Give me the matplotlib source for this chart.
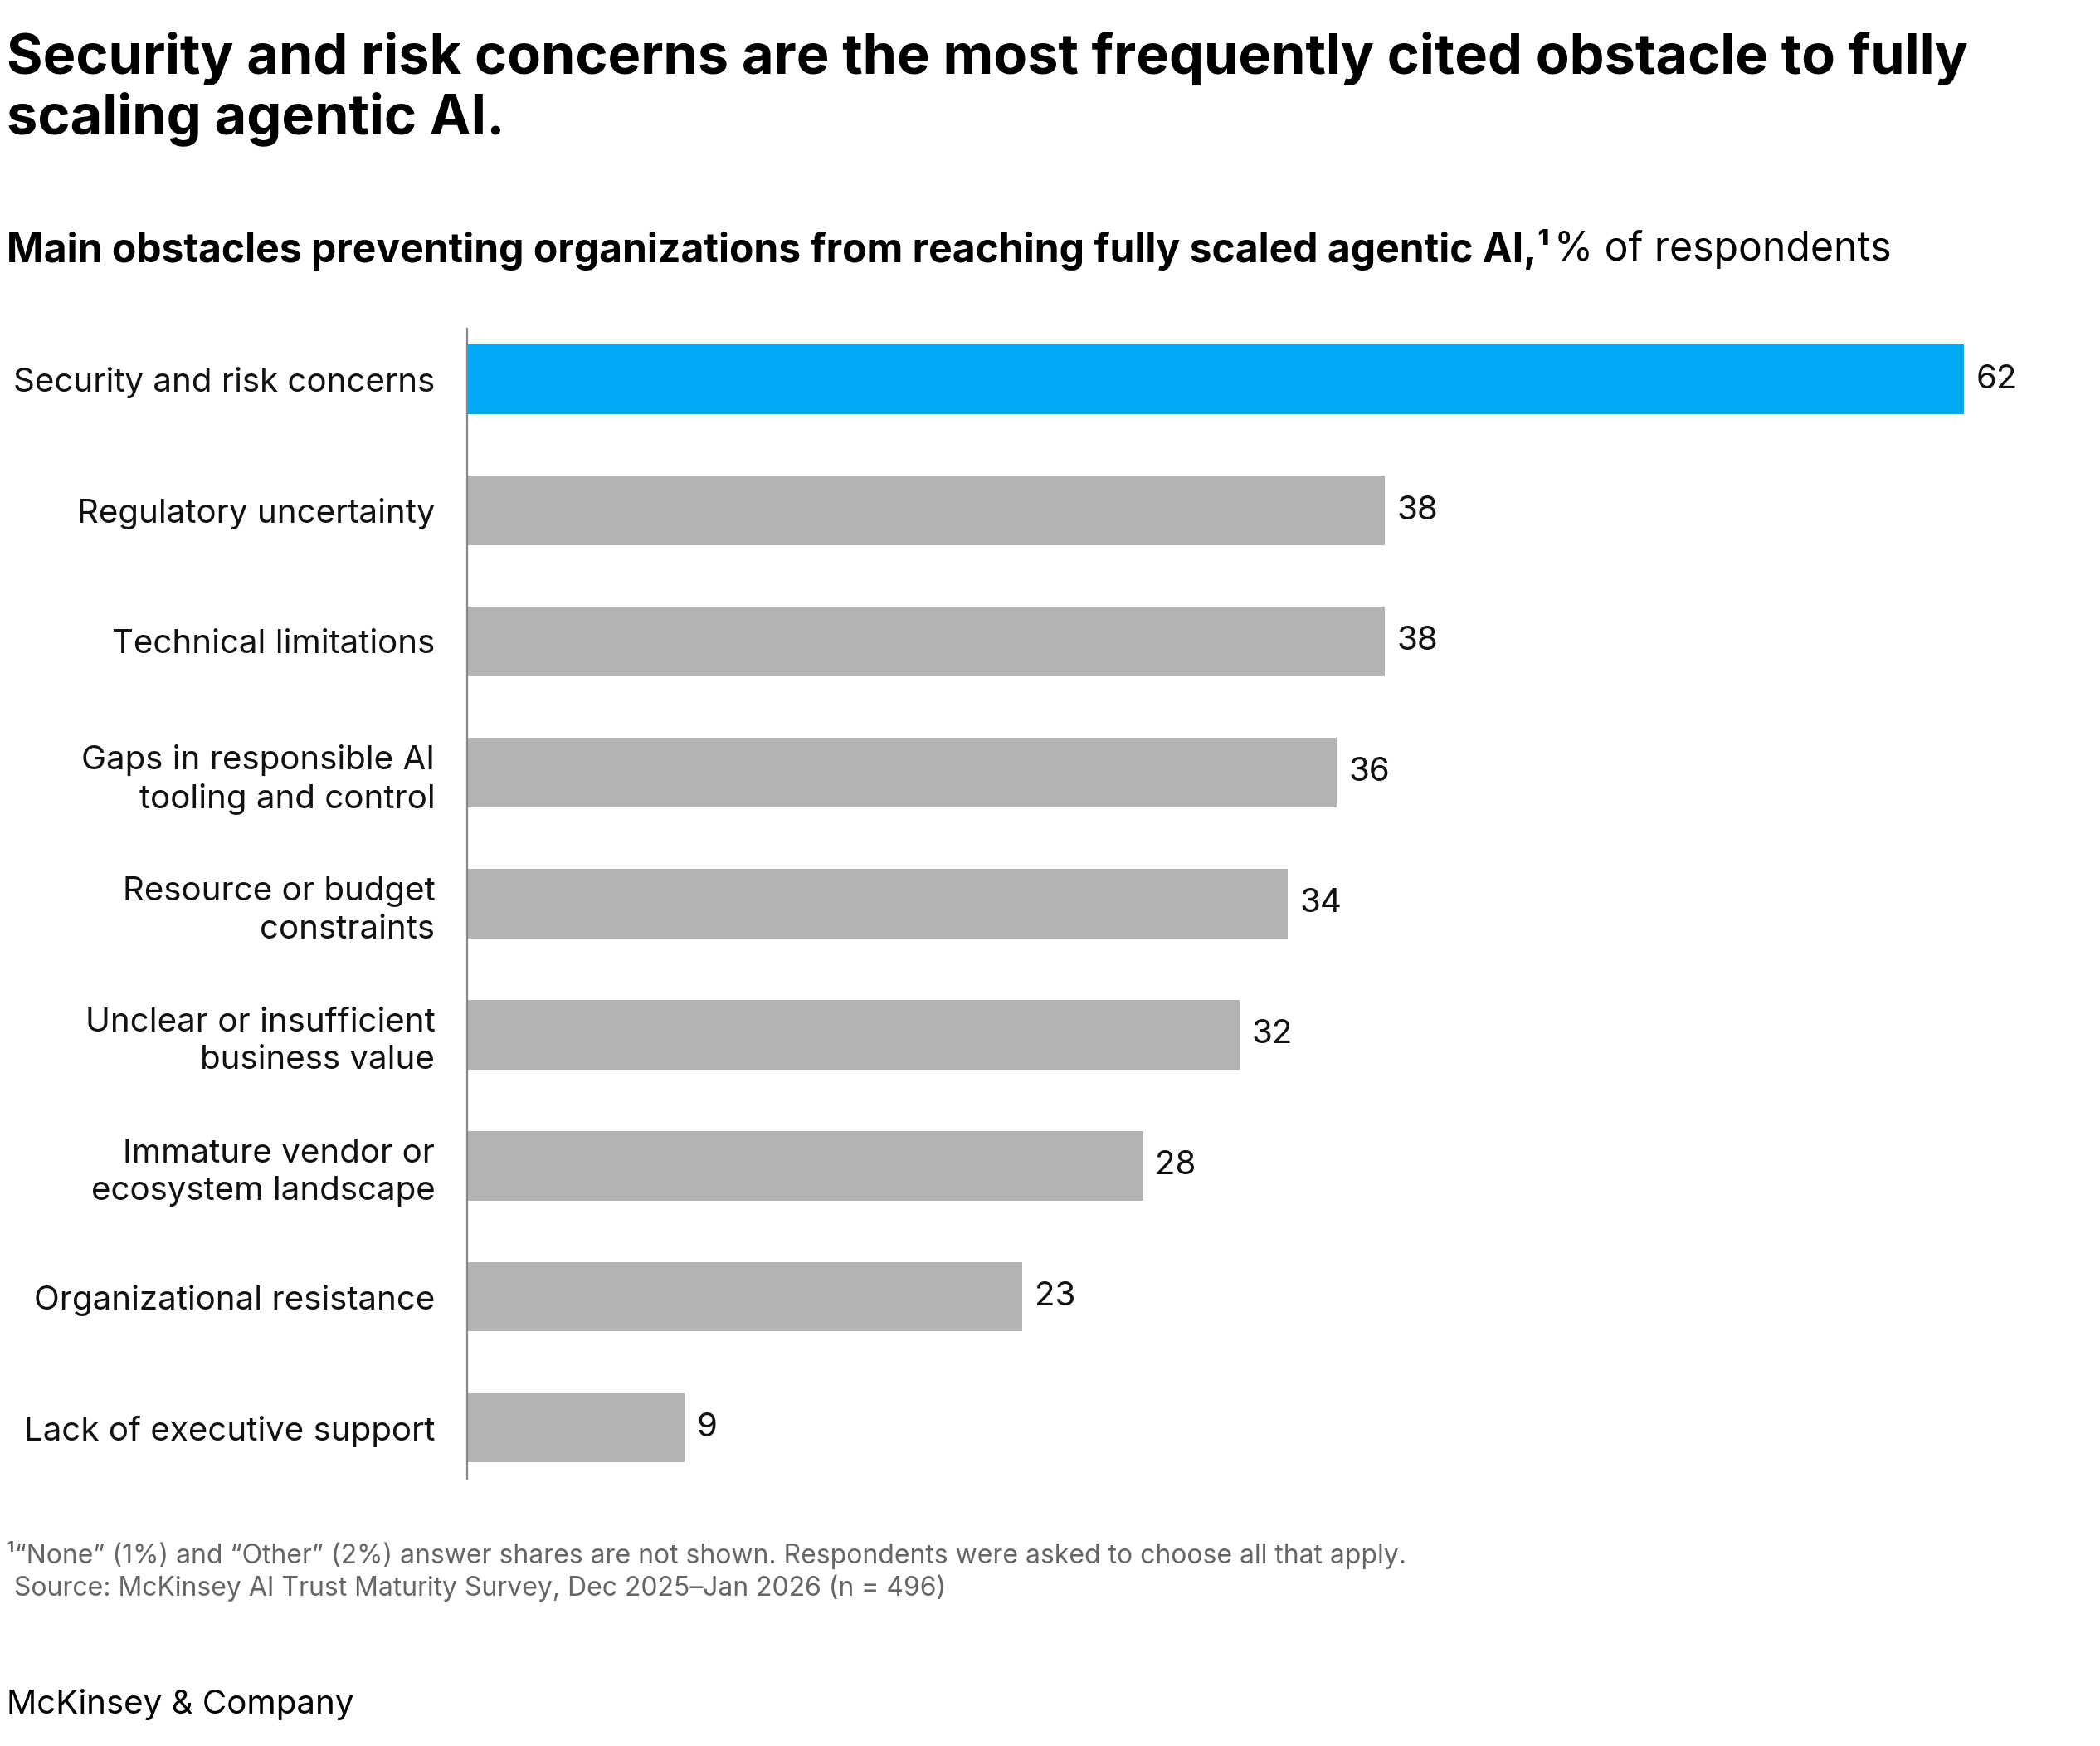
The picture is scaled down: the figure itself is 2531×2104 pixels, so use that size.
import matplotlib
matplotlib.use("Agg")
import matplotlib.pyplot as plt

plt.rcParams['font.family'] = ['Inter', 'DejaVu Sans']

categories = ["Security and risk concerns", "Regulatory uncertainty", "Technical limitations",
              "Gaps in responsible AI\ntooling and control", "Resource or budget\nconstraints",
              "Unclear or insufficient\nbusiness value", "Immature vendor or\necosystem landscape",
              "Organizational resistance", "Lack of executive support"]
values = [62, 38, 38, 36, 34, 32, 28, 23, 9]
colors = ["#00A9F4"] + ["#B3B3B3"] * 8

fig = plt.figure(figsize=(12.655, 10.52), dpi=200)
ax = fig.add_axes([0.2225, 0.153, 0.7645, 0.659])
y = list(range(len(categories)))
ax.barh(y, values, height=0.53, color=colors)
ax.set_ylim(8.39, -0.39)
ax.set_xlim(0, 66.5)
for yi, v in zip(y, values):
    ax.text(v + 0.5, yi, str(v), va='center', ha='left', fontsize=14.5, color='#111111')
ax.set_yticks(y)
ax.set_yticklabels(categories, fontsize=14.5, color='#111111', linespacing=1.3)
ax.tick_params(axis='y', length=0, pad=14)
ax.set_xticks([])
for s in ['top', 'right', 'bottom']:
    ax.spines[s].set_visible(False)
ax.spines['left'].set_color('#888888')
ax.spines['left'].set_linewidth(0.8)

fig.text(0.003, 0.982, "Security and risk concerns are the most frequently cited obstacle to fully\nscaling agentic AI.",
         fontsize=24, fontweight='bold', va='top', ha='left', linespacing=1.15, color='#000000')
t1 = fig.text(0.003, 0.857, "Main obstacles preventing organizations from reaching fully scaled agentic AI,\u00b9",
              fontsize=17.3, fontweight='bold', va='center', ha='left', color='#000000')
fig.canvas.draw()
bb = t1.get_window_extent(fig.canvas.get_renderer())
x1 = bb.x1 / fig.bbox.width
fig.text(x1 + 0.002, 0.857, "% of respondents", fontsize=17.3, va='center', ha='left', color='#000000')

fig.text(0.003, 0.1, "\u00b9\u201cNone\u201d (1%) and \u201cOther\u201d (2%) answer shares are not shown. Respondents were asked to choose all that apply.\n Source: McKinsey AI Trust Maturity Survey, Dec 2025\u2013Jan 2026 (n = 496)",
         fontsize=11.5, color='#666666', va='center', ha='left', linespacing=1.25)
fig.text(0.003, 0.024, "McKinsey & Company", fontsize=14.5, color='#000000', va='center', ha='left')

fig.savefig("out.png", dpi=200)
